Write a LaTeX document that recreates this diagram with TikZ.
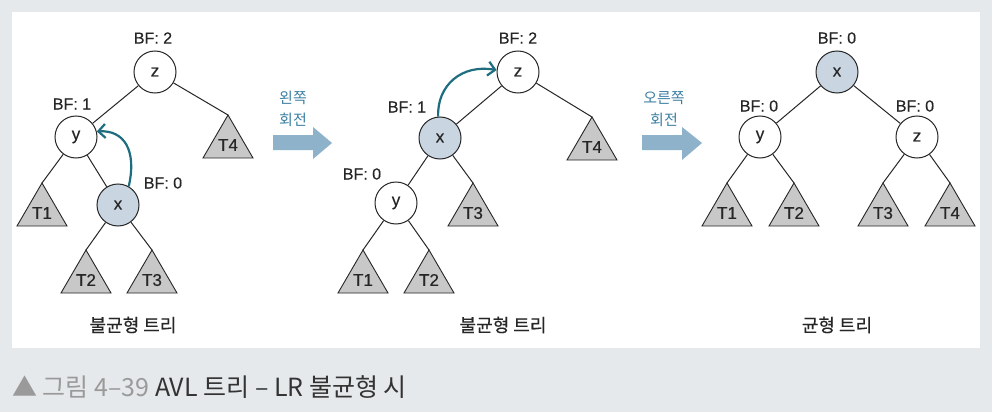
\documentclass[tikz,border=0pt]{standalone}
\usepackage{fontspec}
\setmainfont{Noto Sans CJK KR}
\newfontfamily\krmed{Noto Sans CJK KR}[FakeBold=0.5]
\newfontfamily\latmed{Liberation Sans}[FakeBold=0.4]
\usetikzlibrary{arrows.meta}
\definecolor{bgc}{HTML}{E6E9EB}
\definecolor{nodeblue}{HTML}{C9D6E2}
\definecolor{rotblue}{HTML}{8FB2CB}
\definecolor{rottext}{HTML}{3B7FA3}
\definecolor{teal}{HTML}{1F6E80}
\definecolor{trigray}{HTML}{C8C8C8}
\definecolor{capgray}{HTML}{9A9A9A}
\definecolor{capdark}{HTML}{333333}
\newcommand{\subtri}[4]{%
  \coordinate (#1) at (#2,#3);
  \draw[tristyle] (#1) -- ++(-25,43) -- ++(50,0) -- cycle;
  \node[trilabel] (#1l) at (#2,#3+30) {#4};}
\begin{document}
\begin{tikzpicture}[x=1pt,y=-1pt,
  nd/.style={circle, draw=black!85, line width=1pt, minimum size=42pt, inner sep=0pt, fill=white, text=black!85, font=\latmed\fontsize{17}{17}\selectfont},
  hl/.style={nd, fill=nodeblue},
  bf/.style={inner sep=0pt, text=black!85, font=\latmed\fontsize{16}{16}\selectfont},
  edge/.style={line width=1pt, draw=black!85},
  tristyle/.style={line width=0.9pt, draw=black!85, fill=trigray, line join=miter},
  trilabel/.style={inner sep=0pt, text=black!85, font=\latmed\fontsize{17}{17}\selectfont},
  treecap/.style={inner sep=0pt, text=black!85, font=\krmed\fontsize{18}{18}\selectfont},
  rotlab/.style={inner sep=0pt, text=rottext, align=center, font=\fontsize{15}{22}\selectfont},
  rotarrow/.style={fill=rotblue},
  swing/.style={line width=2.2pt, draw=teal, -{Straight Barb[length=7pt,width=14pt]}}
]
\fill[bgc] (0,0) rectangle (992,412);
\fill[white] (12,12) rectangle (980,348);

% ---------- tree 1 ----------
\node[nd] (z1) at (155,72) {z};
\node[nd] (y1) at (76,137) {y};
\node[hl] (x1) at (118,205) {x};
\node[bf] (bz1) at (153,38) {BF: 2};
\node[bf] (by1) at (72,104) {BF: 1};
\node[bf] (bx1) at (163,183) {BF: 0};
\subtri{t41}{228}{115}{T4}
\subtri{t11}{42}{183}{T1}
\subtri{t21}{86}{250}{T2}
\subtri{t31}{152}{250}{T3}
\draw[edge] (z1) -- (y1);
\draw[edge] (z1) -- (t41);
\draw[edge] (y1) -- (t11);
\draw[edge] (y1) -- (x1);
\draw[edge] (x1) -- (t21);
\draw[edge] (x1) -- (t31);
\draw[swing] (x1.60) .. controls (137,150) and (124,130) .. (y1.15);
\node[treecap] (c1) at (133,325) {불균형 트리};

% ---------- rotation 1 ----------
\node[rotlab] (r1) at (293,109) {왼쪽\\회전};
\fill[rotarrow] (273,135) -- (313,135) -- (313,127) -- (332,143) -- (313,159) -- (313,150) -- (273,150) -- cycle;

% ---------- tree 2 ----------
\node[nd] (z2) at (518,72) {z};
\node[hl] (x2) at (440,138) {x};
\node[nd] (y2) at (396,203) {y};
\node[bf] (bz2) at (518,38) {BF: 2};
\node[bf] (bx2) at (407,107) {BF: 1};
\node[bf] (by2) at (362,174) {BF: 0};
\subtri{t42}{592}{117}{T4}
\subtri{t32}{473}{183}{T3}
\subtri{t12}{363}{250}{T1}
\subtri{t22}{429}{250}{T2}
\draw[edge] (z2) -- (x2);
\draw[edge] (z2) -- (t42);
\draw[edge] (x2) -- (y2);
\draw[edge] (x2) -- (t32);
\draw[edge] (y2) -- (t12);
\draw[edge] (y2) -- (t22);
\draw[swing] (x2.95) .. controls (437,85) and (462,64) .. (z2.175);
\node[treecap] (c2) at (503,325) {불균형 트리};

% ---------- rotation 2 ----------
\node[rotlab] (r2) at (664,109) {오른쪽\\회전};
\fill[rotarrow] (642,135) -- (682,135) -- (682,127) -- (702,143) -- (682,160) -- (682,150) -- (642,150) -- cycle;

% ---------- tree 3 ----------
\node[hl] (x3) at (837,72) {x};
\node[nd] (y3) at (760,137) {y};
\node[nd] (z3) at (917,137) {z};
\node[bf] (bx3) at (837,38) {BF: 0};
\node[bf] (by3) at (759,106) {BF: 0};
\node[bf] (bz3) at (915,106) {BF: 0};
\subtri{t13}{727}{183}{T1}
\subtri{t23}{794}{183}{T2}
\subtri{t33}{883}{183}{T3}
\subtri{t43}{950}{183}{T4}
\draw[edge] (x3) -- (y3);
\draw[edge] (x3) -- (z3);
\draw[edge] (y3) -- (t13);
\draw[edge] (y3) -- (t23);
\draw[edge] (z3) -- (t33);
\draw[edge] (z3) -- (t43);
\node[treecap] (c3) at (837,325) {균형 트리};

% ---------- caption ----------
\node[anchor=west, inner sep=0pt, font=\fontsize{25}{25}\selectfont] (fig) at (12,387)
  {\textcolor{capgray}{▲ 그림 4–39} \textcolor{capdark}{AVL 트리 – LR 불균형 시}};
\end{tikzpicture}
\end{document}
